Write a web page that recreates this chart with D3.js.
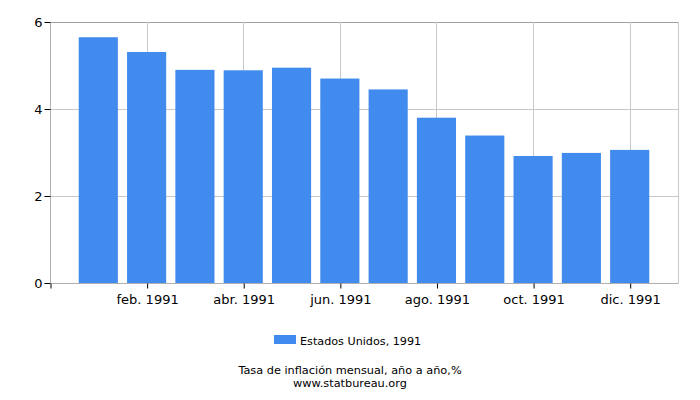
<!DOCTYPE html>
<html>
<head>
<meta charset="utf-8">
<script src="https://cdn.jsdelivr.net/npm/d3@7"></script>
<style>
  body { margin: 0; background: #fff; }
  text { font-family: "DejaVu Sans", sans-serif; }
</style>
</head>
<body>
<div id="chart"></div>
<script>
// data
var months = ["ene. 1991", "feb. 1991", "mar. 1991", "abr. 1991", "may. 1991", "jun. 1991",
              "jul. 1991", "ago. 1991", "sep. 1991", "oct. 1991", "nov. 1991", "dic. 1991"];
var values = [5.65, 5.31, 4.90, 4.89, 4.95, 4.70, 4.45, 3.80, 3.39, 2.92, 2.99, 3.06];
var yTicks = [0, 2, 4, 6];
var seriesName = "Estados Unidos, 1991";
var title = "Tasa de inflación mensual, año a año,%";
var source = "www.statbureau.org";

var svgWidth = 700;
var svgHeight = 400;
var margin = { top: 22, right: 22, bottom: 117, left: 50 };
var width = svgWidth - margin.left - margin.right;
var height = svgHeight - margin.top - margin.bottom;
var barColor = "#428bee";

var svg = d3.select("#chart")
    .append("svg")
    .attr("width", svgWidth)
    .attr("height", svgHeight);

var chartGroup = svg.append("g")
    .attr("transform", `translate(${margin.left}, ${margin.top})`);

// month index scale: months sit at 1..12, axis runs 0..13
var xScale = d3.scaleLinear()
    .domain([0, months.length + 1])
    .range([0, width]);

var yScale = d3.scaleLinear()
    .domain([0, 6])
    .range([height, 0]);

var step = xScale(1) - xScale(0);
var barWidth = step * 0.81;

// horizontal grid
chartGroup.selectAll(".hgrid")
    .data(yTicks)
    .enter()
    .append("line")
    .attr("x1", 0)
    .attr("x2", width)
    .attr("y1", d => Math.round(yScale(d)) + 0.5)
    .attr("y2", d => Math.round(yScale(d)) + 0.5)
    .attr("stroke", d => d === 6 ? "#a0a0a0" : "#c8c8c8")
    .attr("stroke-width", 1);

// vertical grid at every other month
var xTickIdx = [2, 4, 6, 8, 10, 12];
chartGroup.selectAll(".vgrid")
    .data(xTickIdx.concat([months.length + 1]))
    .enter()
    .append("line")
    .attr("x1", d => Math.round(xScale(d)) + 0.5)
    .attr("x2", d => Math.round(xScale(d)) + 0.5)
    .attr("y1", 0)
    .attr("y2", height)
    .attr("stroke", "#c8c8c8");

// bars
chartGroup.selectAll("rect.bar")
    .data(values)
    .enter()
    .append("rect")
    .attr("class", "bar")
    .attr("x", (d, i) => xScale(i + 1) - barWidth / 2)
    .attr("width", barWidth)
    .attr("y", d => yScale(d))
    .attr("height", d => height - yScale(d))
    .attr("fill", barColor);

// y axis
var yAxis = d3.axisLeft(yScale)
    .tickValues(yTicks)
    .tickFormat(d3.format("d"))
    .tickSize(6)
    .tickPadding(2);

var yG = chartGroup.append("g")
    .attr("transform", "translate(0.5,0)")
    .call(yAxis);
yG.select(".domain").attr("stroke", "#b0b0b0").attr("d", `M0,0V${height}`);
yG.selectAll(".tick line").attr("stroke", "#000");
yG.selectAll(".tick text")
    .attr("font-size", 13)
    .attr("font-family", "DejaVu Sans, sans-serif")
    .attr("fill", "#000");

// x axis
var xAxis = d3.axisBottom(xScale)
    .tickValues([0].concat(xTickIdx))
    .tickFormat(d => d === 0 ? "" : months[d - 1])
    .tickSize(5)
    .tickPadding(6);

var xG = chartGroup.append("g")
    .attr("transform", `translate(0.5, ${Math.round(height) + 0.5})`)
    .call(xAxis);
xG.select(".domain").attr("stroke", "#b0b0b0").attr("d", `M0,0H${width}`);
xG.selectAll(".tick line").attr("stroke", "#000");
xG.selectAll(".tick text")
    .attr("font-size", 13)
    .attr("font-family", "DejaVu Sans, sans-serif")
    .attr("fill", "#000");

// legend
var legend = svg.append("g");
legend.append("rect")
    .attr("x", 274)
    .attr("y", 335)
    .attr("width", 22)
    .attr("height", 9)
    .attr("fill", barColor);
legend.append("text")
    .attr("x", 300)
    .attr("y", 345)
    .attr("font-size", 11.2)
    .attr("fill", "#000")
    .text(seriesName);

svg.append("text")
    .attr("x", svgWidth / 2)
    .attr("y", 374)
    .attr("text-anchor", "middle")
    .attr("font-size", 11.3)
    .attr("fill", "#000")
    .text(title);

svg.append("text")
    .attr("x", svgWidth / 2)
    .attr("y", 387)
    .attr("text-anchor", "middle")
    .attr("font-size", 11.3)
    .attr("fill", "#000")
    .text(source);
</script>
</body>
</html>
